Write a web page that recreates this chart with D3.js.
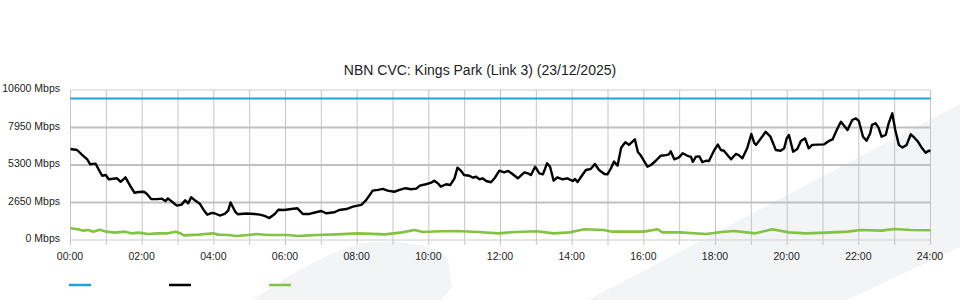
<!DOCTYPE html>
<html>
<head>
<meta charset="utf-8">
<script src="https://cdn.jsdelivr.net/npm/d3@7"></script>
<style>
  html, body { margin: 0; padding: 0; background: #fff; }
  svg { display: block; font-family: "Liberation Sans", Arial, sans-serif; }
</style>
</head>
<body>
<svg id="chart" width="960" height="300"></svg>
<script>
const titleText = "NBN CVC: Kings Park (Link 3) (23/12/2025)";

// x tick labels (every 2 hours) and their minute positions
const xTickLabels = ["00:00","02:00","04:00","06:00","08:00","10:00","12:00","14:00","16:00","18:00","20:00","22:00","24:00"];
const xTickMinutes = [0,120,240,360,480,600,720,840,960,1080,1200,1320,1440];
// hourly grid positions (minutes)
const gridMinutes = [0,60,120,180,240,300,360,420,480,540,600,660,720,780,840,900,960,1020,1080,1140,1200,1260,1320,1380,1440];
// y ticks (Mbps)
const yTickValues = [0,2650,5300,7950,10600];

// series names (legend shows no labels)
const seriesNames = ["", "", ""];

// Blue: capacity
const blueTimes = [0, 1440];
const blueValues = [10000, 10000];

// Black: traffic (minutes since midnight, Mbps)
const blackTimes = [0,11,20,28,33,42,47,53,59,64,72,78,84,92,100,107,114,123,128,135,145,153,159,163,170,178,186,192,197,202,210,217,223,229,237,241,250,258,264,268,276,280,294,308,317,325,333,342,348,358,370,380,389,400,411,420,428,442,450,462,473,487,495,506,515,523,531,542,551,561,570,579,585,595,604,609,615,620,629,636,643,648,654,659,668,674,679,685,690,696,704,710,718,726,733,740,749,760,766,771,778,785,791,798,803,809,815,824,832,841,845,849,855,863,871,878,885,894,899,905,910,916,922,929,935,941,945,950,955,961,966,972,980,988,997,1002,1005,1011,1019,1025,1033,1039,1042,1047,1053,1058,1064,1069,1078,1084,1089,1094,1106,1114,1119,1125,1133,1140,1145,1148,1156,1164,1172,1181,1189,1195,1199,1203,1210,1217,1223,1230,1236,1242,1251,1262,1270,1276,1283,1290,1301,1309,1315,1320,1327,1333,1339,1342,1348,1353,1358,1365,1370,1376,1381,1387,1393,1400,1407,1413,1419,1426,1432,1437,1440];
const blackValues = [6430,6360,6000,5700,5350,5400,5000,4540,4590,4290,4330,4360,4110,4430,3820,3340,3390,3410,3250,2890,2890,2920,2750,2940,2700,2430,2500,2800,2590,3020,2750,2540,2120,1790,1910,1890,1730,1840,2070,2650,1980,1820,1870,1840,1790,1700,1550,1840,2140,2120,2190,2240,1840,1840,1960,2050,1890,1960,2120,2190,2360,2480,2820,3490,3540,3610,3490,3410,3540,3660,3590,3630,3840,3940,4050,4190,4010,3770,3940,3890,4360,5110,4880,4590,4540,4400,4470,4290,4360,4170,4080,4360,4900,4780,4880,4660,4360,4780,4710,4590,5180,4710,4640,5420,5180,4190,4430,4290,4360,4170,4310,4090,4470,4950,5020,5370,4950,4660,4640,5070,5540,5250,6520,6910,6720,6950,7110,6220,5970,5540,5180,5300,5600,5950,6000,6050,6270,5700,5840,6130,5950,5880,5520,5880,5910,5500,5600,5580,6360,6740,6360,6310,5700,6080,6000,5770,6480,7490,6840,6720,7180,7650,7300,6360,6310,6480,7160,7420,6240,6430,7000,7180,6480,6720,6740,6760,7000,7110,7770,8360,7770,8480,8590,8410,7300,7020,7540,8130,8250,7940,7300,7420,8250,8950,7770,6720,6530,6720,7470,7230,6950,6480,6170,6310,6290];

// Green: traffic (minutes since midnight, Mbps)
const greenTimes = [0,13,21,30,38,49,60,74,91,102,114,130,147,163,176,184,190,215,225,239,247,264,278,297,311,331,347,364,381,398,414,445,482,527,555,576,590,619,647,682,717,745,781,809,836,860,893,907,935,960,983,991,1020,1064,1090,1111,1147,1175,1203,1231,1266,1301,1323,1358,1379,1407,1440];
const greenValues = [830,760,660,710,590,730,590,520,590,470,520,420,470,470,590,470,330,380,420,470,380,350,280,350,420,350,350,350,280,330,350,400,470,400,540,710,570,620,640,570,470,570,620,470,540,760,710,590,590,590,760,540,540,420,570,640,470,760,540,470,520,590,710,660,780,710,690];

const colors = { blue: "#1fa3df", black: "#000000", green: "#82c341" };

const svg = d3.select("#chart");

// background watermark shapes
svg.append("path")
  .attr("d", "M252,300 C290,275 335,246 372,242 C410,239 438,249 448,258 L452,288 L440,300 Z")
  .attr("fill", "#f3f4f6");
svg.append("path")
  .attr("d", "M588,300 L960,104 L960,247 L847,300 Z")
  .attr("fill", "#f3f4f6");

const x = d3.scaleLinear().domain([0, 1440]).range([70.5, 930.5]);
const y = d3.scaleLinear().domain([0, 10600]).range([240, 90]);

// vertical grid
svg.append("g").selectAll("line").data(gridMinutes).join("line")
  .attr("x1", d => x(d)).attr("x2", d => x(d))
  .attr("y1", y(10600)).attr("y2", 245)
  .attr("stroke", "#c4c4c4").attr("stroke-width", 1);

// horizontal grid
svg.append("g").selectAll("line").data(yTickValues).join("line")
  .attr("x1", x(0)).attr("x2", x(1440))
  .attr("y1", d => y(d)).attr("y2", d => y(d))
  .attr("stroke", d => (d === 0 || d === 10600) ? "#cccccc" : "#c0c0c0")
  .attr("stroke-width", d => (d === 0 || d === 10600) ? 1 : 2);

// title
svg.append("text")
  .attr("x", 480).attr("y", 75)
  .attr("text-anchor", "middle")
  .attr("font-size", "14px")
  .attr("fill", "#222")
  .text(titleText);

// axes (labels only)
const xAxis = d3.axisBottom(x).tickValues(xTickMinutes)
  .tickFormat((d, i) => xTickLabels[i]).tickSize(0).tickPadding(12.5);
const gx = svg.append("g").attr("transform", `translate(-1,${y(0)})`).call(xAxis);
gx.select(".domain").remove();
gx.selectAll("text").attr("font-size", "10.5px").attr("fill", "#222")
  .attr("font-family", "Liberation Sans, Arial, sans-serif");

const yAxis = d3.axisLeft(y).tickValues(yTickValues)
  .tickFormat(d => d + " Mbps").tickSize(0).tickPadding(10.5);
const gy = svg.append("g").attr("transform", `translate(${x(0)},0)`).call(yAxis);
gy.select(".domain").remove();
gy.selectAll("text").attr("font-size", "10.5px").attr("fill", "#222").attr("dy", "0.17em")
  .attr("font-family", "Liberation Sans, Arial, sans-serif");

// lines
const line = d3.line().x(d => x(d[0])).y(d => y(d[1]));
const zip = (t, v) => t.map((tt, i) => [tt, v[i]]);

svg.append("path").datum(zip(greenTimes, greenValues))
  .attr("d", line).attr("fill", "none")
  .attr("stroke", colors.green).attr("stroke-width", 2.6).attr("stroke-linejoin", "round");
svg.append("path").datum(zip(blueTimes, blueValues))
  .attr("d", line).attr("fill", "none")
  .attr("stroke", colors.blue).attr("stroke-width", 2.2);
svg.append("path").datum(zip(blackTimes, blackValues))
  .attr("d", line).attr("fill", "none")
  .attr("stroke", colors.black).attr("stroke-width", 2.4).attr("stroke-linejoin", "round");

// legend (swatches only)
const legendColors = [colors.blue, colors.black, colors.green];
const lg = svg.append("g");
legendColors.forEach((c, i) => {
  lg.append("line")
    .attr("x1", 69 + i * 100).attr("x2", 91 + i * 100)
    .attr("y1", 285).attr("y2", 285)
    .attr("stroke", c).attr("stroke-width", 2.5);
  lg.append("text").attr("x", 96 + i * 100).attr("y", 289)
    .attr("font-size", "10.5px").text(seriesNames[i]);
});
</script>
</body>
</html>
